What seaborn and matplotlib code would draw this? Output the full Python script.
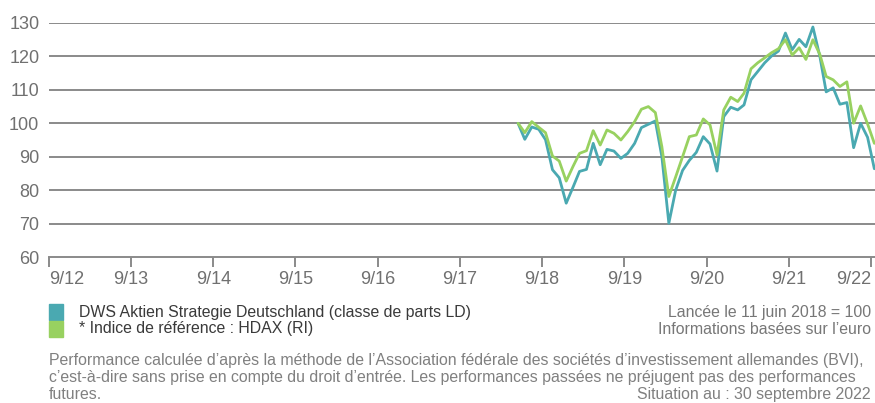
import numpy as np
import pandas as pd
import matplotlib
matplotlib.use("Agg")
import matplotlib.pyplot as plt
import matplotlib.dates as mdates
from matplotlib.patches import Rectangle
import seaborn as sns

# ---------------- data ----------------
dates = pd.date_range("2018-05-31", periods=53, freq="ME")
fund = [100, 95.2, 98.9, 98.2, 95.1, 86.1, 83.7, 76.1, 81.0, 85.6, 86.2, 94.0,
        87.6, 92.2, 91.7, 89.5, 91.0, 94.0, 98.7, 99.7, 100.7, 90.0, 70.1, 79.9,
        85.9, 88.9, 91.3, 96.0, 93.8, 85.7, 102.0, 104.8, 104.0, 105.5, 113.0,
        115.5, 118.1, 120.1, 121.6, 127.0, 122.0, 125.1, 122.9, 128.8, 120.0,
        109.4, 110.6, 105.7, 106.2, 92.7, 100.0, 95.8, 86.4]
bench = [100, 97.2, 100.5, 98.8, 97.2, 90.2, 88.7, 82.7, 87.2, 91.0, 91.8, 97.8,
         93.5, 98.0, 97.0, 95.0, 97.5, 100.5, 104.2, 105.0, 103.2, 93.0, 78.1,
         83.9, 90.0, 96.0, 96.5, 101.3, 99.5, 90.5, 104.0, 107.8, 106.5, 109.0,
         116.3, 118.1, 119.6, 121.1, 122.3, 125.0, 120.4, 122.6, 119.1, 125.0,
         120.6, 114.0, 113.0, 111.0, 112.4, 100.0, 105.2, 99.8, 94.0]
series_names = ["DWS Aktien Strategie Deutschland (classe de parts LD)",
                "* Indice de référence : HDAX (RI)"]
tick_years = list(range(2012, 2023))
tick_labels = [f"9/{y % 100}" for y in tick_years]
y_ticks = [60, 70, 80, 90, 100, 110, 120, 130]

colors = {series_names[0]: "#4aa9b1", series_names[1]: "#98d160"}

df = pd.DataFrame({
    "date": list(dates) * 2,
    "value": fund + bench,
    "series": [series_names[0]] * len(fund) + [series_names[1]] * len(bench),
})

# ---------------- figure ----------------
sns.set_theme(style="white")
plt.rcParams["font.family"] = ["Liberation Sans", "DejaVu Sans"]

fig = plt.figure(figsize=(8.75, 4.03), dpi=100)
ax = fig.add_axes([49 / 875, 1 - 257 / 403, 1 - 49 / 875 - 0.0005, (257 - 23) / 403])

grid_col = "#8a8a8a"
for v in y_ticks[1:]:
    ax.axhline(v, color=grid_col, lw=1.4, zorder=1)

sns.lineplot(data=df, x="date", y="value", hue="series", palette=colors,
             hue_order=series_names, linewidth=2.0, legend=False, ax=ax, zorder=3)

ax.set_ylim(60, 130)
ax.set_yticks(y_ticks)
ax.set_xlim(pd.Timestamp("2012-09-15"), pd.Timestamp("2022-10-01"))
tick_pos = [pd.Timestamp(f"{y}-09-15") for y in tick_years]
ax.set_xticks(tick_pos)
ax.set_xticklabels(tick_labels)
labs = ax.get_xticklabels()
labs[0].set_ha("left")
labs[-1].set_ha("right")

for s in ["top", "right", "left"]:
    ax.spines[s].set_visible(False)
ax.spines["bottom"].set_color(grid_col)
ax.spines["bottom"].set_linewidth(1.4)
ax.tick_params(axis="x", which="major", direction="out", length=7, width=1.4,
               color=grid_col, labelsize=13, labelcolor="#707070", pad=3, bottom=True)
ax.tick_params(axis="y", length=0, labelsize=13, labelcolor="#707070", pad=7)
ax.set_xlabel("")
ax.set_ylabel("")
ax.grid(False)

# ---------------- legend ----------------
def fy(py):
    return 1 - py / 403

sq_w, sq_h = 14 / 875, 16 / 403
fig.patches.append(Rectangle((49 / 875, fy(320)), sq_w, sq_h, transform=fig.transFigure,
                             color=colors[series_names[0]]))
fig.patches.append(Rectangle((49 / 875, fy(337)), sq_w, sq_h, transform=fig.transFigure,
                             color=colors[series_names[1]]))
fs = 11.4
fig.text(79 / 875, fy(312), series_names[0], fontsize=fs, color="#3a3a3a", va="center")
fig.text(79 / 875, fy(329), series_names[1], fontsize=fs, color="#3a3a3a", va="center")
fig.text(871 / 875, fy(312), "Lancée le 11 juin 2018 = 100", fontsize=fs,
         color="#777777", va="center", ha="right")
fig.text(871 / 875, fy(329), "Informations basées sur l’euro", fontsize=fs,
         color="#777777", va="center", ha="right")

foot = ["Performance calculée d’après la méthode de l’Association fédérale des sociétés d’investissement allemandes (BVI),",
        "c’est-à-dire sans prise en compte du droit d’entrée. Les performances passées ne préjugent pas des performances",
        "futures."]
for i, line in enumerate(foot):
    fig.text(49 / 875, fy(361 + 16.7 * i), line, fontsize=fs, color="#808080", va="center")
fig.text(871 / 875, fy(395), "Situation au : 30 septembre 2022", fontsize=fs,
         color="#808080", va="center", ha="right")

fig.savefig("out.png", dpi=100)
